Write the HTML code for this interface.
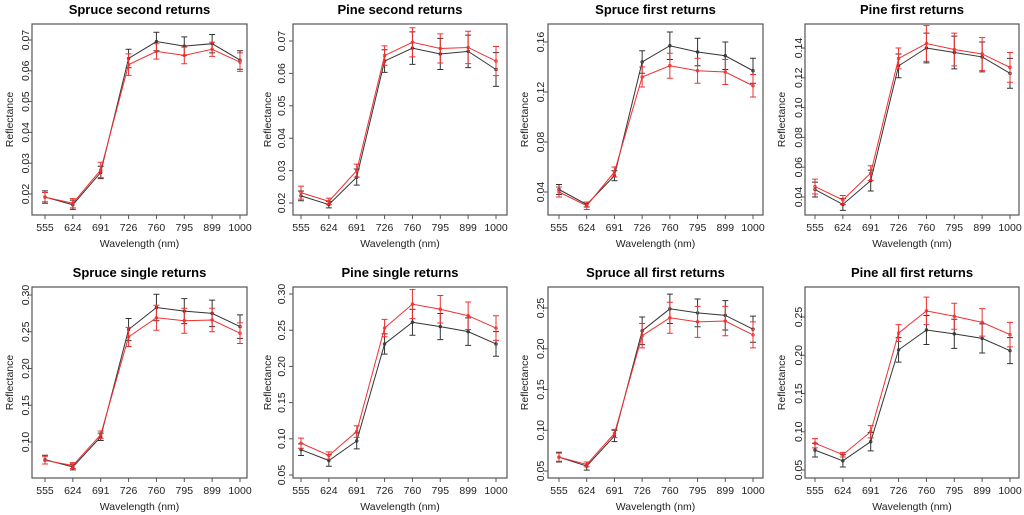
<!DOCTYPE html>
<html><head><meta charset="utf-8">
<style>
html,body{margin:0;padding:0;background:#fff;}
svg{display:block;font-family:"Liberation Sans",Arial,sans-serif;}
</style></head>
<body>
<svg id="chart" width="1024" height="515" viewBox="0 0 1024 515" xmlns="http://www.w3.org/2000/svg"></svg>
<script>
const categories = ["555","624","691","726","760","795","899","1000"];
const titles = ["Spruce second returns","Pine second returns","Spruce first returns","Pine first returns",
"Spruce single returns","Pine single returns","Spruce all first returns","Pine all first returns"];
const blackMeans = [
[0.019,0.0165,0.027,0.064,0.0695,0.068,0.0688,0.0635],
[0.0222,0.0195,0.028,0.0638,0.0678,0.066,0.0668,0.0612],
[0.042,0.030,0.053,0.144,0.157,0.152,0.149,0.137],
[0.045,0.035,0.051,0.128,0.140,0.137,0.134,0.123],
[0.076,0.066,0.107,0.253,0.283,0.278,0.275,0.257],
[0.085,0.070,0.097,0.231,0.261,0.255,0.248,0.231],
[0.067,0.056,0.093,0.222,0.249,0.244,0.241,0.224],
[0.076,0.062,0.087,0.207,0.233,0.228,0.222,0.206]];
const blackErrs = [
[0.002,0.0015,0.002,0.003,0.003,0.003,0.003,0.003],
[0.0015,0.001,0.0025,0.0035,0.005,0.0048,0.005,0.0052],
[0.004,0.002,0.004,0.009,0.011,0.011,0.011,0.010],
[0.005,0.004,0.007,0.008,0.010,0.011,0.010,0.010],
[0.006,0.004,0.005,0.015,0.018,0.017,0.018,0.016],
[0.008,0.008,0.011,0.014,0.018,0.018,0.019,0.017],
[0.006,0.005,0.007,0.017,0.018,0.017,0.018,0.016],
[0.009,0.008,0.012,0.016,0.019,0.019,0.019,0.017]];
const redMeans = [
[0.019,0.017,0.0278,0.062,0.0663,0.065,0.067,0.0628],
[0.0232,0.0205,0.030,0.0655,0.0696,0.0677,0.0680,0.0638],
[0.040,0.029,0.056,0.132,0.141,0.137,0.136,0.125],
[0.047,0.038,0.056,0.133,0.143,0.139,0.136,0.127],
[0.075,0.068,0.110,0.243,0.269,0.265,0.266,0.248],
[0.094,0.077,0.110,0.253,0.286,0.279,0.270,0.253],
[0.067,0.058,0.096,0.216,0.238,0.233,0.234,0.217],
[0.085,0.070,0.100,0.229,0.258,0.251,0.243,0.227]];
const redErrs = [
[0.0015,0.0015,0.0025,0.0035,0.0025,0.0027,0.0023,0.003],
[0.002,0.001,0.002,0.003,0.0045,0.0045,0.005,0.0045],
[0.004,0.003,0.004,0.008,0.010,0.010,0.010,0.009],
[0.005,0.003,0.005,0.007,0.012,0.011,0.011,0.010],
[0.005,0.004,0.005,0.013,0.017,0.017,0.016,0.014],
[0.007,0.005,0.008,0.012,0.020,0.019,0.019,0.017],
[0.005,0.003,0.005,0.015,0.019,0.019,0.018,0.016],
[0.006,0.003,0.008,0.011,0.018,0.017,0.018,0.016]];
const yTickLabels = [
["0.02","0.03","0.04","0.05","0.06","0.07"],
["0.02","0.03","0.04","0.05","0.06","0.07"],
["0.04","0.08","0.12","0.16"],
["0.04","0.06","0.08","0.10","0.12","0.14"],
["0.10","0.15","0.20","0.25","0.30"],
["0.05","0.10","0.15","0.20","0.25","0.30"],
["0.05","0.10","0.15","0.20","0.25"],
["0.05","0.10","0.15","0.20","0.25"]];
// layout: box [x0,x1,y0,y1], x tick pixel first/last, y pixel of first/last tick
const layout = [
{box:[32,247,24,215],xp:[45,240],yp:[194,40],lx:25,rx:9,row:0},
{box:[293,507,24,215],xp:[301,496],yp:[203,41],lx:281,rx:267,row:0},
{box:[548,763,24,215],xp:[559,753],yp:[192,42],lx:540,rx:524,row:0},
{box:[805,1019,24,215],xp:[815,1010],yp:[197,48],lx:798,rx:781,row:0},
{box:[32,247,287,478],xp:[45,240],yp:[442,295],lx:25,rx:9,row:1},
{box:[293,507,287,478],xp:[301,496],yp:[475,294],lx:281,rx:267,row:1},
{box:[548,763,287,478],xp:[559,753],yp:[471,308],lx:540,rx:524,row:1},
{box:[805,1019,287,478],xp:[815,1010],yp:[470,317],lx:798,rx:781,row:1}];
const NS="http://www.w3.org/2000/svg";
const svg=document.getElementById('chart');
function mk(tag,attrs,parent){const e=document.createElementNS(NS,tag);for(const k in attrs)e.setAttribute(k,attrs[k]);(parent||svg).appendChild(e);return e;}
layout.forEach((L,p)=>{
  const g=mk('g',{});
  
  
  const [x0,x1,y0,y1]=L.box;
  const yl=yTickLabels[p];
  const v0=parseFloat(yl[0]),v1=parseFloat(yl[yl.length-1]);
  const yS=v=>L.yp[0]+(v-v0)/(v1-v0)*(L.yp[1]-L.yp[0]);
  const xS=i=>L.xp[0]+i*(L.xp[1]-L.xp[0])/(categories.length-1);
  const t=mk('text',{x:(x0+x1)/2,y:L.row?277:14,'text-anchor':'middle','font-size':'13','font-weight':'bold',fill:'#000'},g);
  t.textContent=titles[p];
  
  
  const b=mk('rect',{x:x0,y:y0,width:x1-x0,height:y1-y0,fill:'none',stroke:'#555','stroke-width':1.2},g);
  
  
  const xa=mk('g',{},g);
  
  
  mk('line',{x1:xS(0),x2:xS(7),y1:y1,y2:y1,stroke:'#555'},xa);
  categories.forEach((c,i)=>{
    mk('line',{x1:xS(i),x2:xS(i),y1:y1,y2:y1+4,stroke:'#555'},xa);
    const tx=mk('text',{x:xS(i),y:y1+16,'text-anchor':'middle','font-size':'10.5',fill:'#222'},xa);
    tx.textContent=c;
    
    
  });
  const xt=mk('text',{x:(x0+x1)/2,y:y1+32,'text-anchor':'middle','font-size':'10.5',fill:'#222'},g);
  xt.textContent='Wavelength (nm)';
  
  
  const ya=mk('g',{},g);
  
  
  yl.forEach(l=>{
    const y=yS(parseFloat(l));
    mk('line',{x1:x0-4,x2:x0,y1:y,y2:y,stroke:'#555'},ya);
    const tx=mk('text',{x:L.lx,y:y,'text-anchor':'middle','font-size':'10.5',fill:'#222',transform:`rotate(-90 ${L.lx} ${y})`,dy:'4'},ya);
    tx.textContent=l;
    
    
  });
  const cy=(y0+y1)/2;
  const yt=mk('text',{x:L.rx,y:cy,'text-anchor':'middle','font-size':'10.5',fill:'#222',dy:'4',transform:`rotate(-90 ${L.rx} ${cy})`},g);
  yt.textContent='Reflectance';
  
  
  [[blackMeans[p],blackErrs[p],'#333','series-black'],[redMeans[p],redErrs[p],'#f03030','series-red']].forEach(([m,e,col,name])=>{
    const sg=mk('g',{},g);
    
    
    const ln=mk('polyline',{points:m.map((v,i)=>xS(i)+','+yS(v)).join(' '),fill:'none',stroke:col,'stroke-width':1},sg);
    
    
    m.forEach((v,i)=>{
      const x=xS(i),ya_=yS(v+e[i]),yb=yS(v-e[i]);
      const eb=mk('path',{d:`M${x},${ya_}V${yb}M${x-3},${ya_}H${x+3}M${x-3},${yb}H${x+3}`,stroke:col,'stroke-width':1,fill:'none'},sg);
      
      
      const pt=mk('circle',{cx:x,cy:yS(v),r:1.3,fill:'none',stroke:col,'stroke-width':0.8},sg);
      
      
    });
  });
});
</script>
</body></html>
